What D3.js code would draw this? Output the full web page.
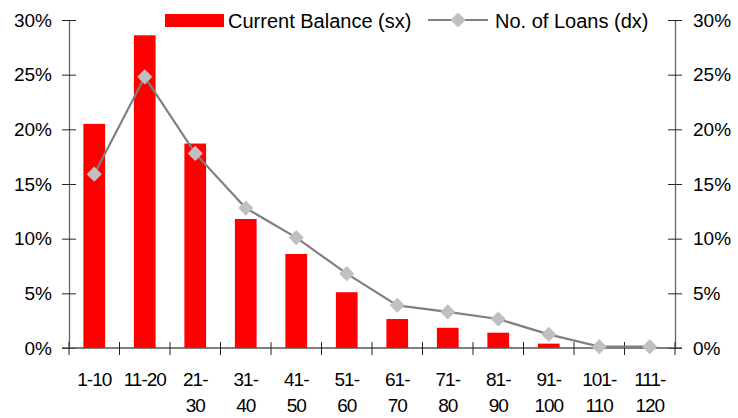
<!DOCTYPE html>
<html>
<head>
<meta charset="utf-8">
<script src="https://cdn.jsdelivr.net/npm/d3@7"></script>
<style>
  html, body { margin: 0; padding: 0; background: #fff; }
  svg text { font-family: "Liberation Sans", Arial, sans-serif; fill: #000; }
</style>
</head>
<body>
<svg id="chart" width="738" height="418"></svg>
<script>
// Loan-size buckets (two-line labels split on "|")
const categories = ["1-10", "11-20", "21-|30", "31-|40", "41-|50", "51-|60",
                    "61-|70", "71-|80", "81-|90", "91-|100", "101-|110", "111-|120"];
// Share of current balance, % (left axis)
const balanceShare = [20.5, 28.6, 18.7, 11.8, 8.6, 5.1, 2.65, 1.85, 1.4, 0.4, 0, 0];
// Share of number of loans, % (right axis)
const loanShare = [15.9, 24.8, 17.8, 12.8, 10.1, 6.8, 3.9, 3.3, 2.65, 1.25, 0.12, 0.12];
// Axis tick values, %
const yTicks = [0, 5, 10, 15, 20, 25, 30];
const seriesNames = ["Current Balance (sx)", "No. of Loans (dx)"];

const svg = d3.select("#chart");
const plotLeft = 69, plotRight = 675, plotTop = 20, plotBottom = 348;

const x = d3.scaleBand().domain(categories).range([plotLeft, plotRight]).padding(0);
const yL = d3.scaleLinear().domain([0, 30]).range([plotBottom, plotTop]);
const yR = d3.scaleLinear().domain([0, 30]).range([plotBottom, plotTop]);

// Bars
const barW = x.bandwidth() * 0.43;
svg.append("g").selectAll("rect")
  .data(categories)
  .join("rect")
  .attr("x", (d) => x(d) + (x.bandwidth() - barW) / 2)
  .attr("y", (d, i) => yL(balanceShare[i]))
  .attr("width", barW)
  .attr("height", (d, i) => plotBottom - yL(balanceShare[i]))
  .attr("fill", "#ff0000");

// Axes with ticks crossing the axis line
function styleAxis(g) {
  g.select(".domain").attr("stroke", "#666").attr("stroke-width", 1.3);
  g.selectAll(".tick line").attr("stroke", "#222").attr("stroke-width", 1);
  g.selectAll(".tick text").attr("font-size", 19).attr("font-family", "Liberation Sans, Arial, sans-serif");
}

const axL = svg.append("g").attr("transform", `translate(${plotLeft},0)`)
  .call(d3.axisLeft(yL).tickValues(yTicks).tickFormat((d) => d + "%").tickSizeOuter(0).tickSizeInner(7).tickPadding(10));
axL.selectAll(".tick line").attr("x1", 7).attr("x2", -7);
axL.selectAll(".tick text").attr("x", -17);
styleAxis(axL);

const axR = svg.append("g").attr("transform", `translate(${plotRight},0)`)
  .call(d3.axisRight(yR).tickValues(yTicks).tickFormat((d) => d + "%").tickSizeOuter(0).tickSizeInner(7).tickPadding(10));
axR.selectAll(".tick line").attr("x1", -7).attr("x2", 7);
axR.selectAll(".tick text").attr("x", 18);
styleAxis(axR);

// Category axis: ticks on band boundaries, labels centred in bands
const axB = svg.append("g").attr("transform", `translate(0,${plotBottom})`);
axB.append("line").attr("x1", plotLeft - 7).attr("x2", plotRight + 7)
  .attr("stroke", "#555").attr("stroke-width", 1.3);
const bounds = categories.map((d) => x(d)).concat([plotRight]);
axB.selectAll("line.tk").data(bounds).join("line").attr("class", "tk")
  .attr("x1", (d) => d).attr("x2", (d) => d).attr("y1", -6).attr("y2", 7)
  .attr("stroke", "#222").attr("stroke-width", 1);
const lbl = axB.selectAll("text").data(categories).join("text")
  .attr("text-anchor", "middle")
  .attr("font-size", 19)
  .attr("letter-spacing", -1)
  .attr("transform", (d) => `translate(${x(d) + x.bandwidth() / 2},38)`);
lbl.selectAll("tspan").data((d) => d.split("|")).join("tspan")
  .attr("x", 0).attr("dy", (d, i) => (i === 0 ? 0 : 26)).text((d) => d);

// Loan-count line with diamond markers
const line = d3.line()
  .x((d, i) => x(categories[i]) + x.bandwidth() / 2)
  .y((d) => yR(d));
svg.append("path").datum(loanShare)
  .attr("d", line).attr("fill", "none")
  .attr("stroke", "#808080").attr("stroke-width", 2.2);
const diamond = d3.symbol().type(d3.symbolSquare).size(115);
svg.append("g").selectAll("path").data(loanShare).join("path")
  .attr("d", diamond)
  .attr("transform", (d, i) => `translate(${x(categories[i]) + x.bandwidth() / 2},${yR(d)}) rotate(45)`)
  .attr("fill", "#c0c0c0");

// Legend
const lg = svg.append("g");
lg.append("rect").attr("x", 165).attr("y", 14).attr("width", 59).attr("height", 13).attr("fill", "#ff0000");
lg.append("text").attr("x", 228).attr("y", 27.5).attr("font-size", 20).text(seriesNames[0]);
lg.append("line").attr("x1", 428).attr("x2", 488).attr("y1", 20).attr("y2", 20)
  .attr("stroke", "#808080").attr("stroke-width", 2.2);
lg.append("path").attr("d", diamond).attr("transform", "translate(458,20) rotate(45)").attr("fill", "#c0c0c0");
lg.append("text").attr("x", 495).attr("y", 27.5).attr("font-size", 20).text(seriesNames[1]);
</script>
</body>
</html>
